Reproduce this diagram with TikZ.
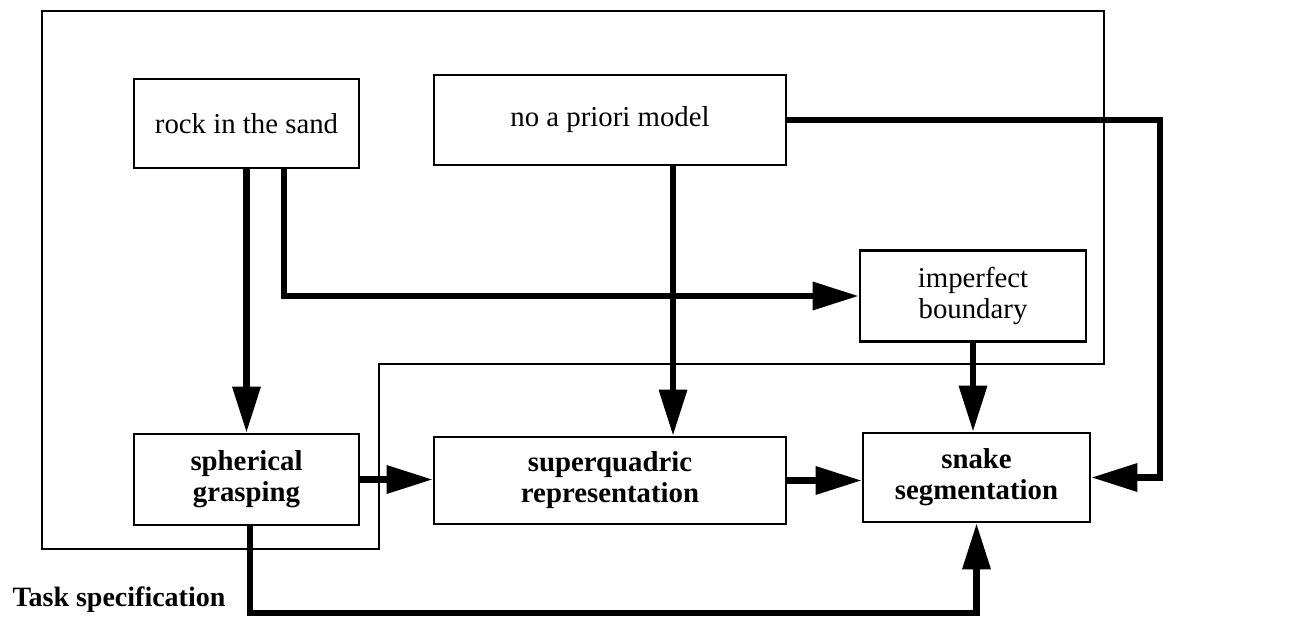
\documentclass[tikz,border=0pt]{standalone}
\usepackage{fontspec}
\setmainfont{Liberation Serif}
\usetikzlibrary{arrows.meta,calc}
\tikzset{
  blk/.style={draw, line width=2.6pt, inner sep=0pt, align=center,
    font=\fontsize{28.8}{31}\selectfont},
  bblk/.style={blk, font=\fontsize{28.8}{31}\selectfont\bfseries},
  arr/.style={line width=6.5pt, -{Triangle[length=46pt,width=27pt]}},
  feed/.style={line width=6.5pt},
  frame/.style={line width=2.2pt},
}
\begin{document}
\begin{tikzpicture}[x=1pt,y=-1pt]
  \useasboundingbox (0,0) rectangle (1298,623);

  % enclosing task-specification outline
  \draw[frame] (42,11) -- (1104,11) -- (1104,364) -- (379,364)
    -- (379,549) -- (42,549) -- cycle;
  \node[anchor=west, font=\fontsize{28}{30}\selectfont\bfseries] (task) at (9,600) {Task specification};

  % blocks
  \node[blk, minimum width=225pt, minimum height=89pt] (rock) at (246.5,123.5) {rock in the sand};
  \node[blk, minimum width=352pt, minimum height=90pt] (prior) at (610,120) {no a priori model};
  \node[blk, minimum width=226pt, minimum height=91pt] (imperf) at (973,296) {imperfect\\boundary};
  \node[bblk, minimum width=225pt, minimum height=91pt] (spher) at (246.5,479.5) {spherical\\grasping};
  \node[bblk, minimum width=352pt, minimum height=87pt] (superq) at (610,480.5) {superquadric\\representation};
  \node[bblk, minimum width=227pt, minimum height=89pt] (snake) at (976.5,477.5) {snake\\segmentation};

  \coordinate (bend) at (1160,0);
  \coordinate (low) at (0,613);

  % connectors
  \draw[arr] (rock.south) -- (spher.north);
  \draw[arr] ([xshift=37.5pt]rock.south) |- (imperf.west);
  \draw[arr] ([xshift=63pt]prior.south) -- ([xshift=63pt]superq.north);
  \draw[arr] (prior.east) -| (bend |- snake.east) -- (snake.east);
  \draw[arr] (imperf.south) -- (imperf.south |- snake.north);
  \draw[arr] (spher.east) -- (spher.east -| superq.west);
  \draw[arr] (superq.east) -- (superq.east -| snake.west);
  \draw[arr] ([xshift=3.5pt]spher.south) |- (low -| snake.south) -- (snake.south);
\end{tikzpicture}
\end{document}
